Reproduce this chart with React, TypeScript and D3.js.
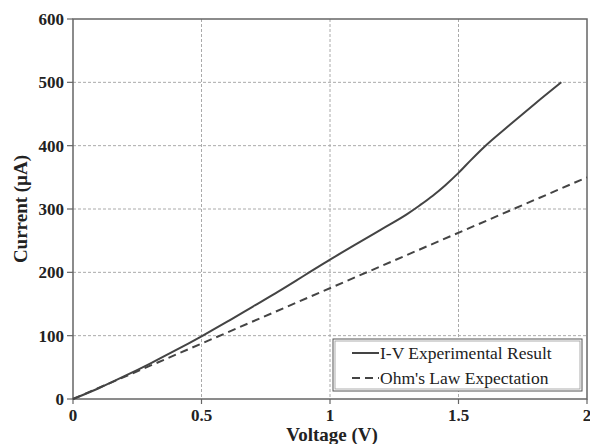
import React from "react";
import * as d3 from "d3";

// measured I-V curve (V, µA)
const expVoltage = [0, 0.1, 0.2, 0.3, 0.4, 0.5, 0.6, 0.7, 0.8, 0.9, 1.0, 1.1, 1.2, 1.3, 1.35, 1.4, 1.45, 1.5, 1.55, 1.6, 1.7, 1.8, 1.9];
const expCurrent = [0, 17, 36, 56, 77, 99, 122, 146, 170, 195, 220, 244, 268, 292, 306, 321, 338, 357, 378, 398, 433, 467, 500];

// ohm's law line
const ohmVoltage = [0, 2];
const ohmCurrent = [0, 350];

const xTicks = [0, 0.5, 1, 1.5, 2];
const yTicks = [0, 100, 200, 300, 400, 500, 600];
const legendLabels = ["I-V Experimental Result", "Ohm's Law Expectation"];

const W = 590;
const H = 444;
const margin = { top: 19, right: 3, bottom: 45, left: 73 };

export default function App() {
  const x = d3.scaleLinear().domain([0, 2]).range([margin.left, W - margin.right]);
  const y = d3.scaleLinear().domain([0, 600]).range([H - margin.bottom, margin.top]);

  const line = d3.line<[number, number]>()
    .x(d => x(d[0]))
    .y(d => y(d[1]))
    .curve(d3.curveMonotoneX);

  const expPts = expVoltage.map((v, i) => [v, expCurrent[i]] as [number, number]);
  const ohmPts = ohmVoltage.map((v, i) => [v, ohmCurrent[i]] as [number, number]);

  const x0 = x(0), x1 = x(2), y0 = y(0), y1 = y(600);
  const axisColor = "#666";
  const font = "'Liberation Serif', 'Times New Roman', serif";

  const lg = { x: 333, y: 339, w: 249, h: 52 };

  return (
    <svg width={W} height={H} style={{ position: "absolute", left: 0, top: 0, background: "#fff" }}>
      {/* grid */}
      <g stroke="#aaa" strokeWidth={1} strokeDasharray="3,2">
        {xTicks.slice(1, -1).map(t => (
          <line key={"gx" + t} x1={x(t)} x2={x(t)} y1={y1} y2={y0} />
        ))}
        {yTicks.slice(1, -1).map(t => (
          <line key={"gy" + t} x1={x0} x2={x1} y1={y(t)} y2={y(t)} />
        ))}
      </g>

      {/* frame */}
      <rect x={x0} y={y1} width={x1 - x0} height={y0 - y1} fill="none" stroke={axisColor} strokeWidth={1.5} />

      {/* ticks */}
      <g stroke={axisColor} strokeWidth={1.2}>
        {yTicks.map(t => (
          <line key={"ty" + t} x1={x0 - 6} x2={x0} y1={y(t)} y2={y(t)} />
        ))}
        {xTicks.map(t => (
          <line key={"tx" + t} x1={x(t)} x2={x(t)} y1={y0} y2={y0 + 5} />
        ))}
      </g>

      <g fontFamily={font} fontWeight="bold" fontSize={17} fill="#222">
        {yTicks.map(t => (
          <text key={"ly" + t} x={x0 - 9} y={y(t)} dy="0.35em" textAnchor="end">{t}</text>
        ))}
        {xTicks.map(t => (
          <text key={"lx" + t} x={x(t)} y={y0 + 22} textAnchor="middle">{t}</text>
        ))}
        <text x={(x0 + x1) / 2 + 2} y={H - 3} textAnchor="middle" fontSize={19}>Voltage (V)</text>
        <text transform={`translate(27,${(y0 + y1) / 2}) rotate(-90)`} textAnchor="middle" fontSize={19}>Current (µA)</text>
      </g>

      {/* series */}
      <path d={line(ohmPts) ?? ""} fill="none" stroke="#444" strokeWidth={2} strokeDasharray="8,5" />
      <path d={line(expPts) ?? ""} fill="none" stroke="#444" strokeWidth={2} />

      {/* legend */}
      <rect x={lg.x} y={lg.y} width={lg.w} height={lg.h} fill="#fff" stroke="#555" strokeWidth={1} />
      <rect x={lg.x + 2} y={lg.y + 2} width={lg.w - 4} height={lg.h - 4} fill="none" stroke="#999" strokeWidth={0.8} />
      <g fontFamily={font} fontSize={17.5} fill="#222">
        <line x1={lg.x + 19} x2={lg.x + 46} y1={lg.y + 14} y2={lg.y + 14} stroke="#444" strokeWidth={2} />
        <text x={lg.x + 47} y={lg.y + 14} dy="0.35em">{legendLabels[0]}</text>
        <line x1={lg.x + 19} x2={lg.x + 46} y1={lg.y + 39} y2={lg.y + 39} stroke="#444" strokeWidth={2} strokeDasharray="8,5" />
        <text x={lg.x + 47} y={lg.y + 39} dy="0.35em">{legendLabels[1]}</text>
      </g>
    </svg>
  );
}
